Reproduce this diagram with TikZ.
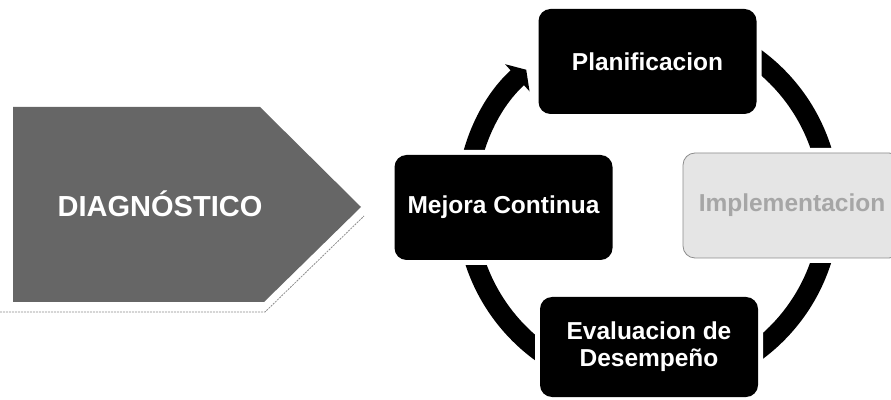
\documentclass[tikz,border=0pt]{standalone}
\usepackage{fontspec}
\setmainfont{Liberation Sans}
\usetikzlibrary{arrows.meta}
\begin{document}
\begin{tikzpicture}[x=1pt,y=1pt,
  box/.style={rounded corners=12pt, minimum width=218pt, minimum height=105pt, inner sep=0pt, align=center,
    font=\bfseries\fontsize{24.5}{27}\selectfont, text=white, preaction={draw=white, line width=10pt}},
  darkbox/.style={box, fill=black},
  ring/.style={line width=20pt, draw=black},
]
\useasboundingbox (0,0) rectangle (891,399);
% Diagnostico arrow shape with shadow
\draw[black!45, line width=0.8pt, dash pattern=on 2pt off 1pt] (0,87) -- (265,87) -- (364,183);
\fill[black!60] (13,292) -- (260,292) -- (361,192) -- (264,97) -- (13,97) -- cycle;
\node[font=\bfseries\fontsize{29}{32}\selectfont, text=white] (diag) at (160,195) {DIAGNÓSTICO};
% cycle ring
\coordinate (c) at (648,194);
\draw[ring, -{Triangle[width=36pt,length=12pt]}] ([shift={(180:182)}]c) arc[start angle=180, end angle=132, radius=182];
\draw[ring] ([shift={(90:182)}]c) arc[start angle=90, end angle=0, radius=182];
\draw[ring] ([shift={(0:182)}]c) arc[start angle=0, end angle=-90, radius=182];
\draw[ring] ([shift={(-90:182)}]c) arc[start angle=-90, end angle=-180, radius=182];
% boxes
\node[darkbox] (plan) at (647.5,337.5) {Planificacion};
\node[darkbox] (mejora) at (503.5,191.5) {Mejora Continua};
\node[darkbox, minimum height=100pt] (eval) at (649,52) {Evaluacion de\\Desempeño};
\node[box, fill=black!10, draw=black!45, line width=0.8pt, text=black!35] (impl) at (792,193.5) {Implementacion};
\end{tikzpicture}
\end{document}
